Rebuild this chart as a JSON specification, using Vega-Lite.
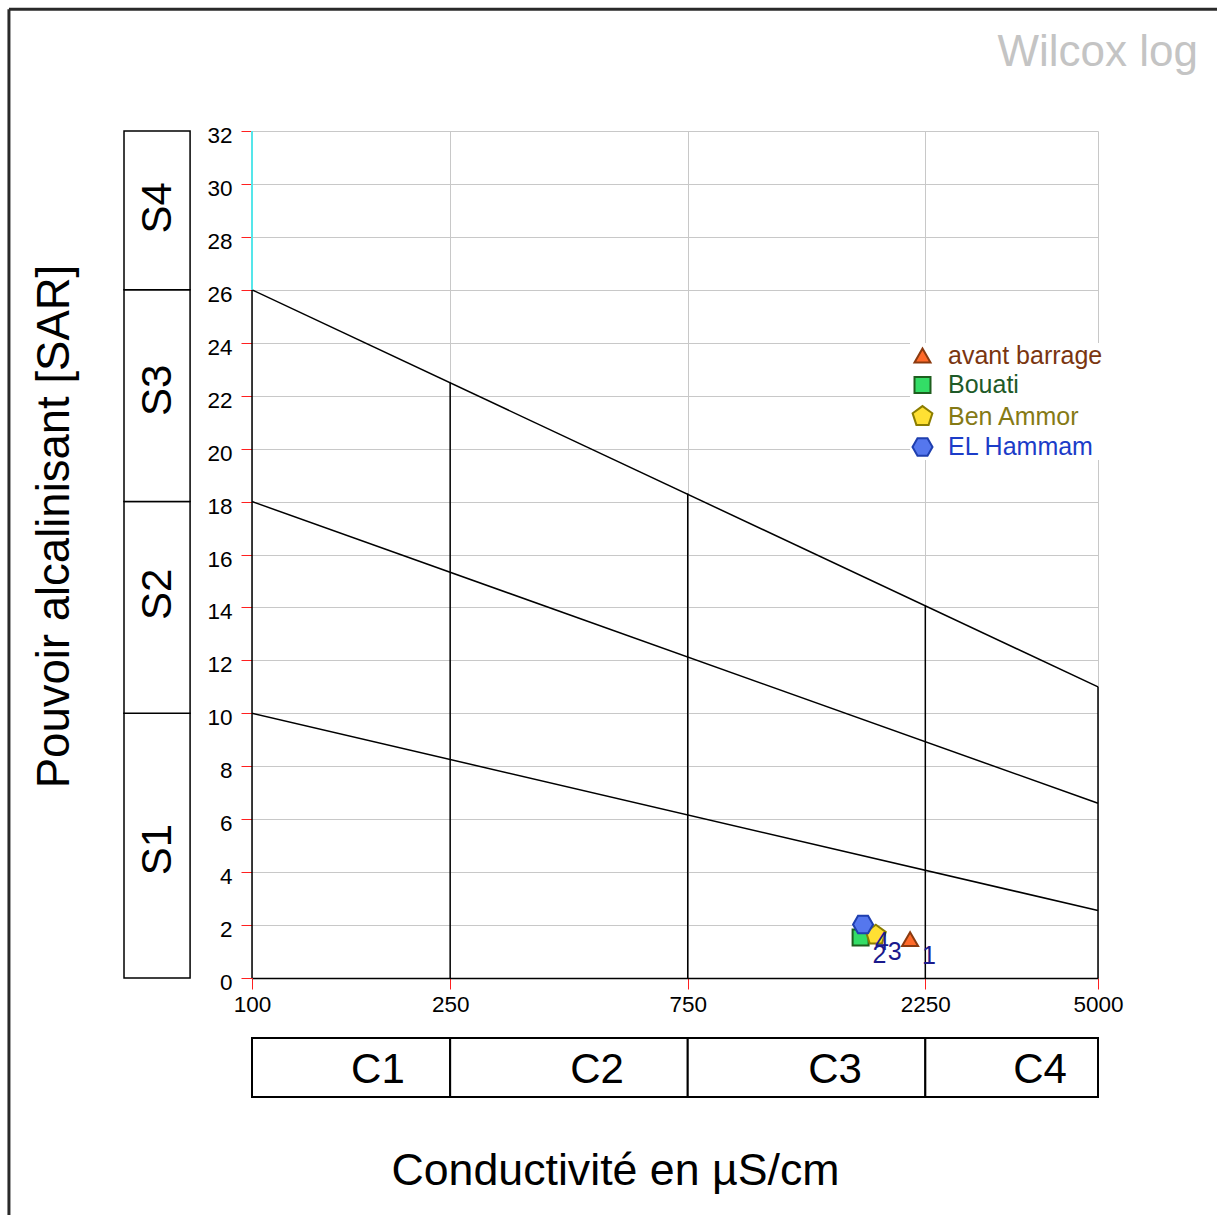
{
  "$schema": "https://vega.github.io/schema/vega-lite/v6.json",
  "width": 846,
  "height": 847,
  "autosize": {"type": "none"},
  "padding": {"left": 252, "top": 131, "right": 119, "bottom": 237},
  "background": "white",
  "config": {"view": {"stroke": null}, "font": "Liberation Sans"},
  "datasets": {
    "frame": [
      {"x": 32.5, "y": 36.6, "x2": 1000000, "y2": 36.6},
      {"x": 32.5, "y": 36.6, "x2": 32.5, "y2": -60}
    ],
    "sbands": [
      {"band": "S1", "lo": 0, "hi": 10, "mid": 4.85},
      {"band": "S2", "lo": 10, "hi": 18, "mid": 14.5},
      {"band": "S3", "lo": 18, "hi": 26, "mid": 22.2},
      {"band": "S4", "lo": 26, "hi": 32, "mid": 29.1}
    ],
    "cbands": [
      {"band": "C1", "lo": 100, "hi": 250, "lx": 179},
      {"band": "C2", "lo": 250, "hi": 750, "lx": 493},
      {"band": "C3", "lo": 750, "hi": 2250, "lx": 1482},
      {"band": "C4", "lo": 2250, "hi": 5000, "lx": 3825}
    ],
    "segments": [
      {"x": 100, "y": 26, "x2": 5000, "y2": 11},
      {"x": 100, "y": 18, "x2": 5000, "y2": 6.6},
      {"x": 100, "y": 10, "x2": 5000, "y2": 2.55},
      {"x": 100, "y": 0, "x2": 100, "y2": 26},
      {"x": 250, "y": 0, "x2": 250, "y2": 22.5},
      {"x": 750, "y": 0, "x2": 750, "y2": 18.3},
      {"x": 2250, "y": 0, "x2": 2250, "y2": 14.08},
      {"x": 5000, "y": 0, "x2": 5000, "y2": 11}
    ],
    "cyan": [{"x": 100, "y": 26, "y2": 32}],
    "samples": [
      {"site": "avant barrage", "n": "1", "ce": 2097, "sar": 1.47},
      {"site": "Bouati", "n": "2", "ce": 1668, "sar": 1.53},
      {"site": "Ben Ammor", "n": "3", "ce": 1790, "sar": 1.62},
      {"site": "EL Hammam", "n": "4", "ce": 1687, "sar": 2.02}
    ]
  },
  "layer": [
    {
      "data": {"name": "frame"},
      "mark": {"type": "rule", "stroke": "#2a2a2a", "strokeWidth": 3},
      "encoding": {
        "x": {
          "field": "x", "type": "quantitative",
          "scale": {"type": "log", "domain": [100, 5000], "nice": false},
          "title": "Conductivité en µS/cm",
          "axis": {
            "values": [100, 250, 750, 2250, 5000],
            "format": "d",
            "grid": true, "gridColor": "#c8c8c8", "gridWidth": 1,
            "tickColor": "#ff2020", "tickSize": 11, "tickWidth": 1,
            "domain": true, "domainColor": "black", "domainWidth": 1.5,
            "labelFont": "Liberation Sans", "labelFontSize": 22.5, "labelColor": "black",
            "labelPadding": 4, "labelOverlap": false, "labelFlush": false,
            "titleFont": "Liberation Sans", "titleFontSize": 44.7, "titleFontWeight": "normal",
            "titleColor": "black", "titleX": 363, "titleY": 206.5,
            "titleBaseline": "alphabetic", "titleAlign": "center"
          }
        },
        "x2": {"field": "x2"},
        "y": {
          "field": "y", "type": "quantitative",
          "scale": {"domain": [0, 32], "nice": false, "zero": false},
          "title": "Pouvoir alcalinisant [SAR]",
          "axis": {
            "values": [0, 2, 4, 6, 8, 10, 12, 14, 16, 18, 20, 22, 24, 26, 28, 30, 32],
            "grid": true, "gridColor": "#c8c8c8", "gridWidth": 1,
            "tickColor": "#ff2020", "tickSize": 11, "tickWidth": 1,
            "domain": false,
            "labelFont": "Liberation Sans", "labelFontSize": 22.5, "labelColor": "black",
            "labelPadding": 9, "labelOffset": 4.5, "labelOverlap": false, "labelFlush": false,
            "titleFont": "Liberation Sans", "titleFontSize": 45.5, "titleFontWeight": "normal",
            "titleColor": "black", "titleX": -183.5, "titleY": 395, "titleAngle": 270,
            "titleBaseline": "alphabetic", "titleAlign": "center"
          }
        },
        "y2": {"field": "y2"}
      }
    },
    {
      "data": {"name": "sbands"},
      "mark": {"type": "rect", "fill": "white", "stroke": "black", "strokeWidth": 1.5},
      "encoding": {
        "x": {"datum": 55.33, "type": "quantitative", "title": "Conductivité en µS/cm"},
        "x2": {"datum": 75.1},
        "y": {"field": "lo", "type": "quantitative", "title": "Pouvoir alcalinisant [SAR]"},
        "y2": {"field": "hi"}
      }
    },
    {
      "data": {"name": "sbands"},
      "mark": {"type": "text", "angle": 270, "fontSize": 42, "align": "center", "baseline": "middle", "color": "black", "font": "Liberation Sans"},
      "encoding": {
        "x": {"datum": 64.6, "type": "quantitative", "title": "Conductivité en µS/cm"},
        "y": {"field": "mid", "type": "quantitative", "title": "Pouvoir alcalinisant [SAR]"},
        "text": {"field": "band"}
      }
    },
    {
      "data": {"name": "cbands"},
      "mark": {"type": "rect", "fill": "white", "stroke": "black", "strokeWidth": 2},
      "encoding": {
        "x": {"field": "lo", "type": "quantitative", "title": "Conductivité en µS/cm"},
        "x2": {"field": "hi"},
        "y": {"datum": -2.27, "type": "quantitative", "title": "Pouvoir alcalinisant [SAR]"},
        "y2": {"datum": -4.5}
      }
    },
    {
      "data": {"name": "cbands"},
      "mark": {"type": "text", "fontSize": 42, "align": "center", "baseline": "middle", "color": "black", "font": "Liberation Sans"},
      "encoding": {
        "x": {"field": "lx", "type": "quantitative", "title": "Conductivité en µS/cm"},
        "y": {"datum": -3.476, "type": "quantitative", "title": "Pouvoir alcalinisant [SAR]"},
        "text": {"field": "band"}
      }
    },
    {
      "data": {"name": "segments"},
      "mark": {"type": "rule", "stroke": "black", "strokeWidth": 1.5},
      "encoding": {
        "x": {"field": "x", "type": "quantitative", "title": "Conductivité en µS/cm"},
        "x2": {"field": "x2"},
        "y": {"field": "y", "type": "quantitative", "title": "Pouvoir alcalinisant [SAR]"},
        "y2": {"field": "y2"}
      }
    },
    {
      "data": {"name": "cyan"},
      "mark": {"type": "rule", "stroke": "#55e6ea", "strokeWidth": 2},
      "encoding": {
        "x": {"field": "x", "type": "quantitative", "title": "Conductivité en µS/cm"},
        "y": {"field": "y", "type": "quantitative", "title": "Pouvoir alcalinisant [SAR]"},
        "y2": {"field": "y2"}
      }
    },
    {
      "data": {"values": [{"label": "Wilcox log"}]},
      "mark": {"type": "text", "fontSize": 44, "align": "right", "baseline": "alphabetic", "color": "#c4c4c4", "font": "Liberation Sans"},
      "encoding": {
        "x": {"datum": 7940, "type": "quantitative", "title": "Conductivité en µS/cm"},
        "y": {"datum": 34.45, "type": "quantitative", "title": "Pouvoir alcalinisant [SAR]"},
        "text": {"field": "label"}
      }
    },
    {
      "data": {"name": "samples"},
      "mark": {"type": "point", "filled": true, "size": 256, "strokeWidth": 2, "opacity": 1},
      "encoding": {
        "x": {"field": "ce", "type": "quantitative", "title": "Conductivité en µS/cm"},
        "y": {"field": "sar", "type": "quantitative", "title": "Pouvoir alcalinisant [SAR]"},
        "fill": {
          "field": "site", "type": "nominal",
          "scale": {"domain": ["avant barrage", "Bouati", "Ben Ammor", "EL Hammam"], "range": ["#ff6a2a", "#33dd66", "#ffe033", "#5577ee"]},
          "legend": {
            "title": null, "orient": "none", "legendX": 658, "legendY": 212,
            "padding": 0, "labelFont": "Liberation Sans", "labelFontSize": 25,
            "symbolSize": 256, "symbolStrokeWidth": 2, "labelOffset": 13, "rowPadding": 3.5,
            "fillColor": "white", "symbolOpacity": 1,
            "encode": {"labels": {"update": {"fill": {"signal": "datum.value === 'avant barrage' ? '#7a3510' : datum.value === 'Bouati' ? '#1e5a28' : datum.value === 'Ben Ammor' ? '#857a15' : '#1c3cc8'"}}}}
          }
        },
        "stroke": {
          "field": "site", "type": "nominal",
          "scale": {"domain": ["avant barrage", "Bouati", "Ben Ammor", "EL Hammam"], "range": ["#8b3a0f", "#1e5e1e", "#8b7d00", "#1f3faf"]}
        },
        "shape": {
          "field": "site", "type": "nominal",
          "scale": {"domain": ["avant barrage", "Bouati", "Ben Ammor", "EL Hammam"], "range": ["triangle-up", "square", "M0,-1.3L1.236,-0.402L0.764,1.052L-0.764,1.052L-1.236,-0.402Z", "M-1.25,0L-0.625,-1.083L0.625,-1.083L1.25,0L0.625,1.083L-0.625,1.083Z"]}
        }
      }
    },
    {
      "data": {"name": "samples"},
      "mark": {"type": "text", "fontSize": 25, "align": "left", "baseline": "alphabetic", "dx": 12, "dy": 25, "color": "#1a1a8c", "font": "Liberation Sans"},
      "encoding": {
        "x": {"field": "ce", "type": "quantitative", "title": "Conductivité en µS/cm"},
        "y": {"field": "sar", "type": "quantitative", "title": "Pouvoir alcalinisant [SAR]"},
        "text": {"field": "n"}
      }
    }
  ]
}
